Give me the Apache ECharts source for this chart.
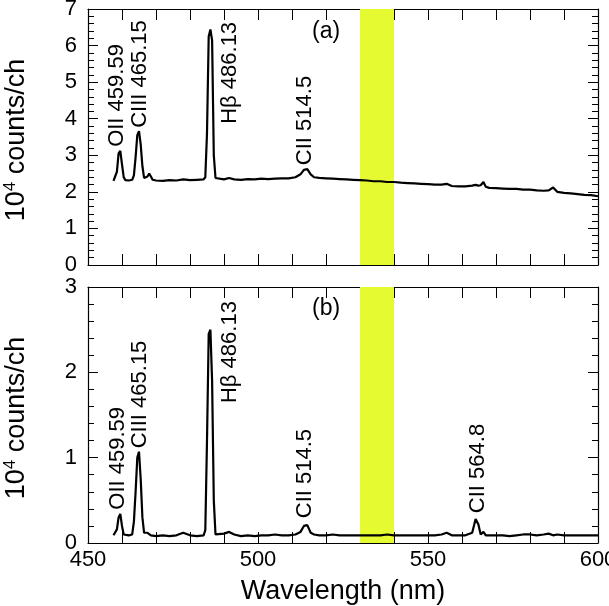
<!DOCTYPE html>
<html>
<head>
<meta charset="utf-8">
<script src="https://cdn.jsdelivr.net/npm/echarts@6/dist/echarts.min.js"></script>
<style>
  html, body { margin: 0; padding: 0; background: #fff; }
  #chart { width: 609px; height: 606px; }
</style>
</head>
<body>
<div id="chart"></div>
<script>
// wavelength (nm), shared by both spectra
var wavelength = [
  457.5, 458, 458.5, 459, 459.5, 460, 460.5, 461, 462, 463,
  463.5, 464, 464.5, 465, 465.5, 466, 466.5, 467, 467.5, 468,
  468.5, 469, 470, 472, 474, 476, 478, 480, 482, 484,
  484.5, 485, 485.5, 486, 486.5, 487, 487.5, 488, 490, 491.5,
  493, 495, 497, 499, 501, 503, 505, 507, 509, 511,
  512.5, 513.5, 514.5, 515.5, 516.5, 518, 520, 522, 524, 526,
  528, 530, 532, 534, 536, 538, 540, 542, 544, 546,
  548, 550, 552, 554, 555.5, 557, 559, 561, 563, 564,
  564.8, 565.5, 566.3, 567, 568, 570, 572, 574, 576, 578,
  580, 582, 584, 585.5, 586.8, 588, 590, 592, 594, 596,
  598, 600
];
// panel (a), 10^4 counts/ch
var countsA = [
  2.30, 2.32, 2.55, 3.05, 3.12, 2.75, 2.40, 2.32, 2.31, 2.33,
  2.45, 2.95, 3.55, 3.66, 3.30, 2.70, 2.38, 2.34, 2.42, 2.50,
  2.42, 2.33, 2.31, 2.30, 2.32, 2.31, 2.34, 2.32, 2.33, 2.34,
  2.40, 3.60, 6.25, 6.44, 6.15, 3.00, 2.38, 2.33, 2.34, 2.38,
  2.34, 2.33, 2.35, 2.34, 2.36, 2.35, 2.36, 2.37, 2.37, 2.40,
  2.48, 2.60, 2.62, 2.48, 2.40, 2.38, 2.37, 2.36, 2.35, 2.34,
  2.33, 2.32, 2.31, 2.29, 2.29, 2.27, 2.27, 2.25, 2.24, 2.23,
  2.22, 2.21, 2.20, 2.20, 2.22, 2.16, 2.15, 2.15, 2.17, 2.19,
  2.17, 2.18, 2.27, 2.14, 2.11, 2.10, 2.09, 2.08, 2.08, 2.06,
  2.06, 2.04, 2.03, 2.04, 2.12, 2.00, 1.97, 1.96, 1.94, 1.92,
  1.91, 1.88
];
// panel (b), 10^4 counts/ch
var countsB = [
  0.09, 0.10, 0.16, 0.30, 0.34, 0.20, 0.10, 0.08, 0.09, 0.10,
  0.25, 0.60, 1.00, 1.07, 0.75, 0.30, 0.12, 0.10, 0.12, 0.11,
  0.09, 0.08, 0.08, 0.09, 0.08, 0.09, 0.12, 0.09, 0.08, 0.09,
  0.15, 1.20, 2.45, 2.50, 1.90, 0.50, 0.10, 0.09, 0.11, 0.13,
  0.10, 0.08, 0.09, 0.08, 0.09, 0.09, 0.10, 0.09, 0.09, 0.10,
  0.13, 0.20, 0.21, 0.12, 0.10, 0.09, 0.09, 0.10, 0.09, 0.09,
  0.09, 0.09, 0.09, 0.09, 0.09, 0.10, 0.09, 0.09, 0.09, 0.09,
  0.09, 0.09, 0.09, 0.10, 0.12, 0.09, 0.09, 0.09, 0.12, 0.28,
  0.22, 0.10, 0.13, 0.09, 0.09, 0.09, 0.09, 0.08, 0.09, 0.10,
  0.10, 0.09, 0.10, 0.11, 0.09, 0.10, 0.09, 0.09, 0.09, 0.09,
  0.09, 0.09
];

// line identifications and where their text starts (nm, counts)
var peakNamesA = ['OII 459.59', 'CIII 465.15', 'Hβ 486.13', 'CII 514.5'];
var peakTextA  = [[458.5, 3.23], [465.3, 3.75], [491.6, 3.86], [513.8, 2.73]];
var peakNamesB = ['OII 459.59', 'CIII 465.15', 'Hβ 486.13', 'CII 514.5', 'CII 564.8'];
var peakTextB  = [[458.7, 0.39], [465.3, 1.11], [491.6, 1.64], [513.8, 0.29], [564.6, 0.35]];

var band = [530, 540];
var xLabels = [450, 500, 550, 600];

var FONT = 'Liberation Sans, Arial, sans-serif';

function toPairs(ys){
	return wavelength.map(function(w, i){ return [w, ys[i]]; });
}
function toLabels(names, pos){
	return names.map(function(n, i){ return {name: n, value: pos[i]}; });
}

function xAxisDef(grid, pos, showLabels){
	return {
		type: 'value', gridIndex: grid, position: pos,
		min: 450, max: 600, interval: 10,
		splitLine: {show: false},
		axisLine: {show: true, onZero: false, lineStyle: {color: '#000', width: 1.2}},
		axisTick: {show: true, inside: true, length: 11, lineStyle: {color: '#000', width: 1}},
		axisLabel: {
			show: showLabels, color: '#000', fontSize: 22, fontFamily: FONT, margin: 6,
			hideOverlap: false,
			formatter: function(v){ return xLabels.indexOf(v) >= 0 ? String(v) : ''; }
		}
	};
}
function yAxisDef(grid, pos, max, showLabels){
	return {
		type: 'value', gridIndex: grid, position: pos,
		min: 0, max: max, interval: 1,
		splitLine: {show: false},
		axisLine: {show: true, onZero: false, lineStyle: {color: '#000', width: 1.2}},
		axisTick: {show: true, inside: true, length: 10, lineStyle: {color: '#000', width: 1}},
		minorTick: {show: true, splitNumber: 5, length: 6, lineStyle: {color: '#000', width: 1}},
		minorSplitLine: {show: false},
		axisLabel: {show: showLabels, color: '#000', fontSize: 22, fontFamily: FONT, margin: 11}
	};
}

// rotated y titles with superscript
function yTitle(cy){
	return {
		type: 'text', x: 17, y: cy, rotation: Math.PI / 2, silent: true,
		style: {
			text: '10{sup|4} counts/ch', fill: '#000',
			fontSize: 27, fontFamily: FONT, lineHeight: 30,
			align: 'center', verticalAlign: 'middle',
			rich: {sup: {fontSize: 17, lineHeight: 17, verticalAlign: 'top', fill: '#000', fontFamily: FONT}}
		}
	};
}

var xA0 = xAxisDef(0, 'bottom', false), xA0t = xAxisDef(0, 'top', false);
var xA1 = xAxisDef(1, 'bottom', true), xA1t = xAxisDef(1, 'top', false);
xA1.name = 'Wavelength (nm)';
xA1.nameLocation = 'middle';
xA1.nameGap = 35;
xA1.nameTextStyle = {color: '#000', fontSize: 27, fontFamily: FONT};

var peakLabel = {
	show: true, formatter: '{b}', position: [0, 0], rotate: 90,
	align: 'left', verticalAlign: 'middle',
	color: '#000', textBorderWidth: 0, opacity: 1,
	fontSize: 22, fontFamily: FONT
};

function spectrum(idx, ys){
	return {
		type: 'line', xAxisIndex: idx * 2, yAxisIndex: idx * 2,
		data: toPairs(ys), showSymbol: false, symbol: 'none',
		lineStyle: {color: '#000', width: 2.2}, z: 3,
		markArea: {
			silent: true,
			itemStyle: {color: '#e6fa32', opacity: 1},
			data: [[{xAxis: band[0]}, {xAxis: band[1]}]]
		}
	};
}
function labels(idx, names, pos){
	return {
		type: 'scatter', xAxisIndex: idx * 2, yAxisIndex: idx * 2,
		symbolSize: 0, silent: true, z: 4,
		itemStyle: {opacity: 1},
		data: toLabels(names, pos), label: peakLabel
	};
}

var chart = echarts.init(document.getElementById('chart'), null, {renderer: 'canvas'});
chart.setOption({
	animation: false,
	backgroundColor: '#fff',
	grid: [
		{left: 88, top: 9, width: 510, height: 256, outerBoundsMode: 'none', containLabel: false},
		{left: 88, top: 287, width: 510, height: 256, outerBoundsMode: 'none', containLabel: false}
	],
	xAxis: [xA0, xA0t, xA1, xA1t],
	yAxis: [
		yAxisDef(0, 'left', 7, true), yAxisDef(0, 'right', 7, false),
		yAxisDef(1, 'left', 3, true), yAxisDef(1, 'right', 3, false)
	],
	graphic: [
		yTitle(140),
		yTitle(418),
		{type: 'text', left: 312, top: 20, style: {text: '(a)', fontSize: 23, fontFamily: FONT, fill: '#000'}},
		{type: 'text', left: 312, top: 297, style: {text: '(b)', fontSize: 23, fontFamily: FONT, fill: '#000'}}
	],
	series: [
		spectrum(0, countsA),
		spectrum(1, countsB),
		labels(0, peakNamesA, peakTextA),
		labels(1, peakNamesB, peakTextB)
	]
});
</script>
</body>
</html>
